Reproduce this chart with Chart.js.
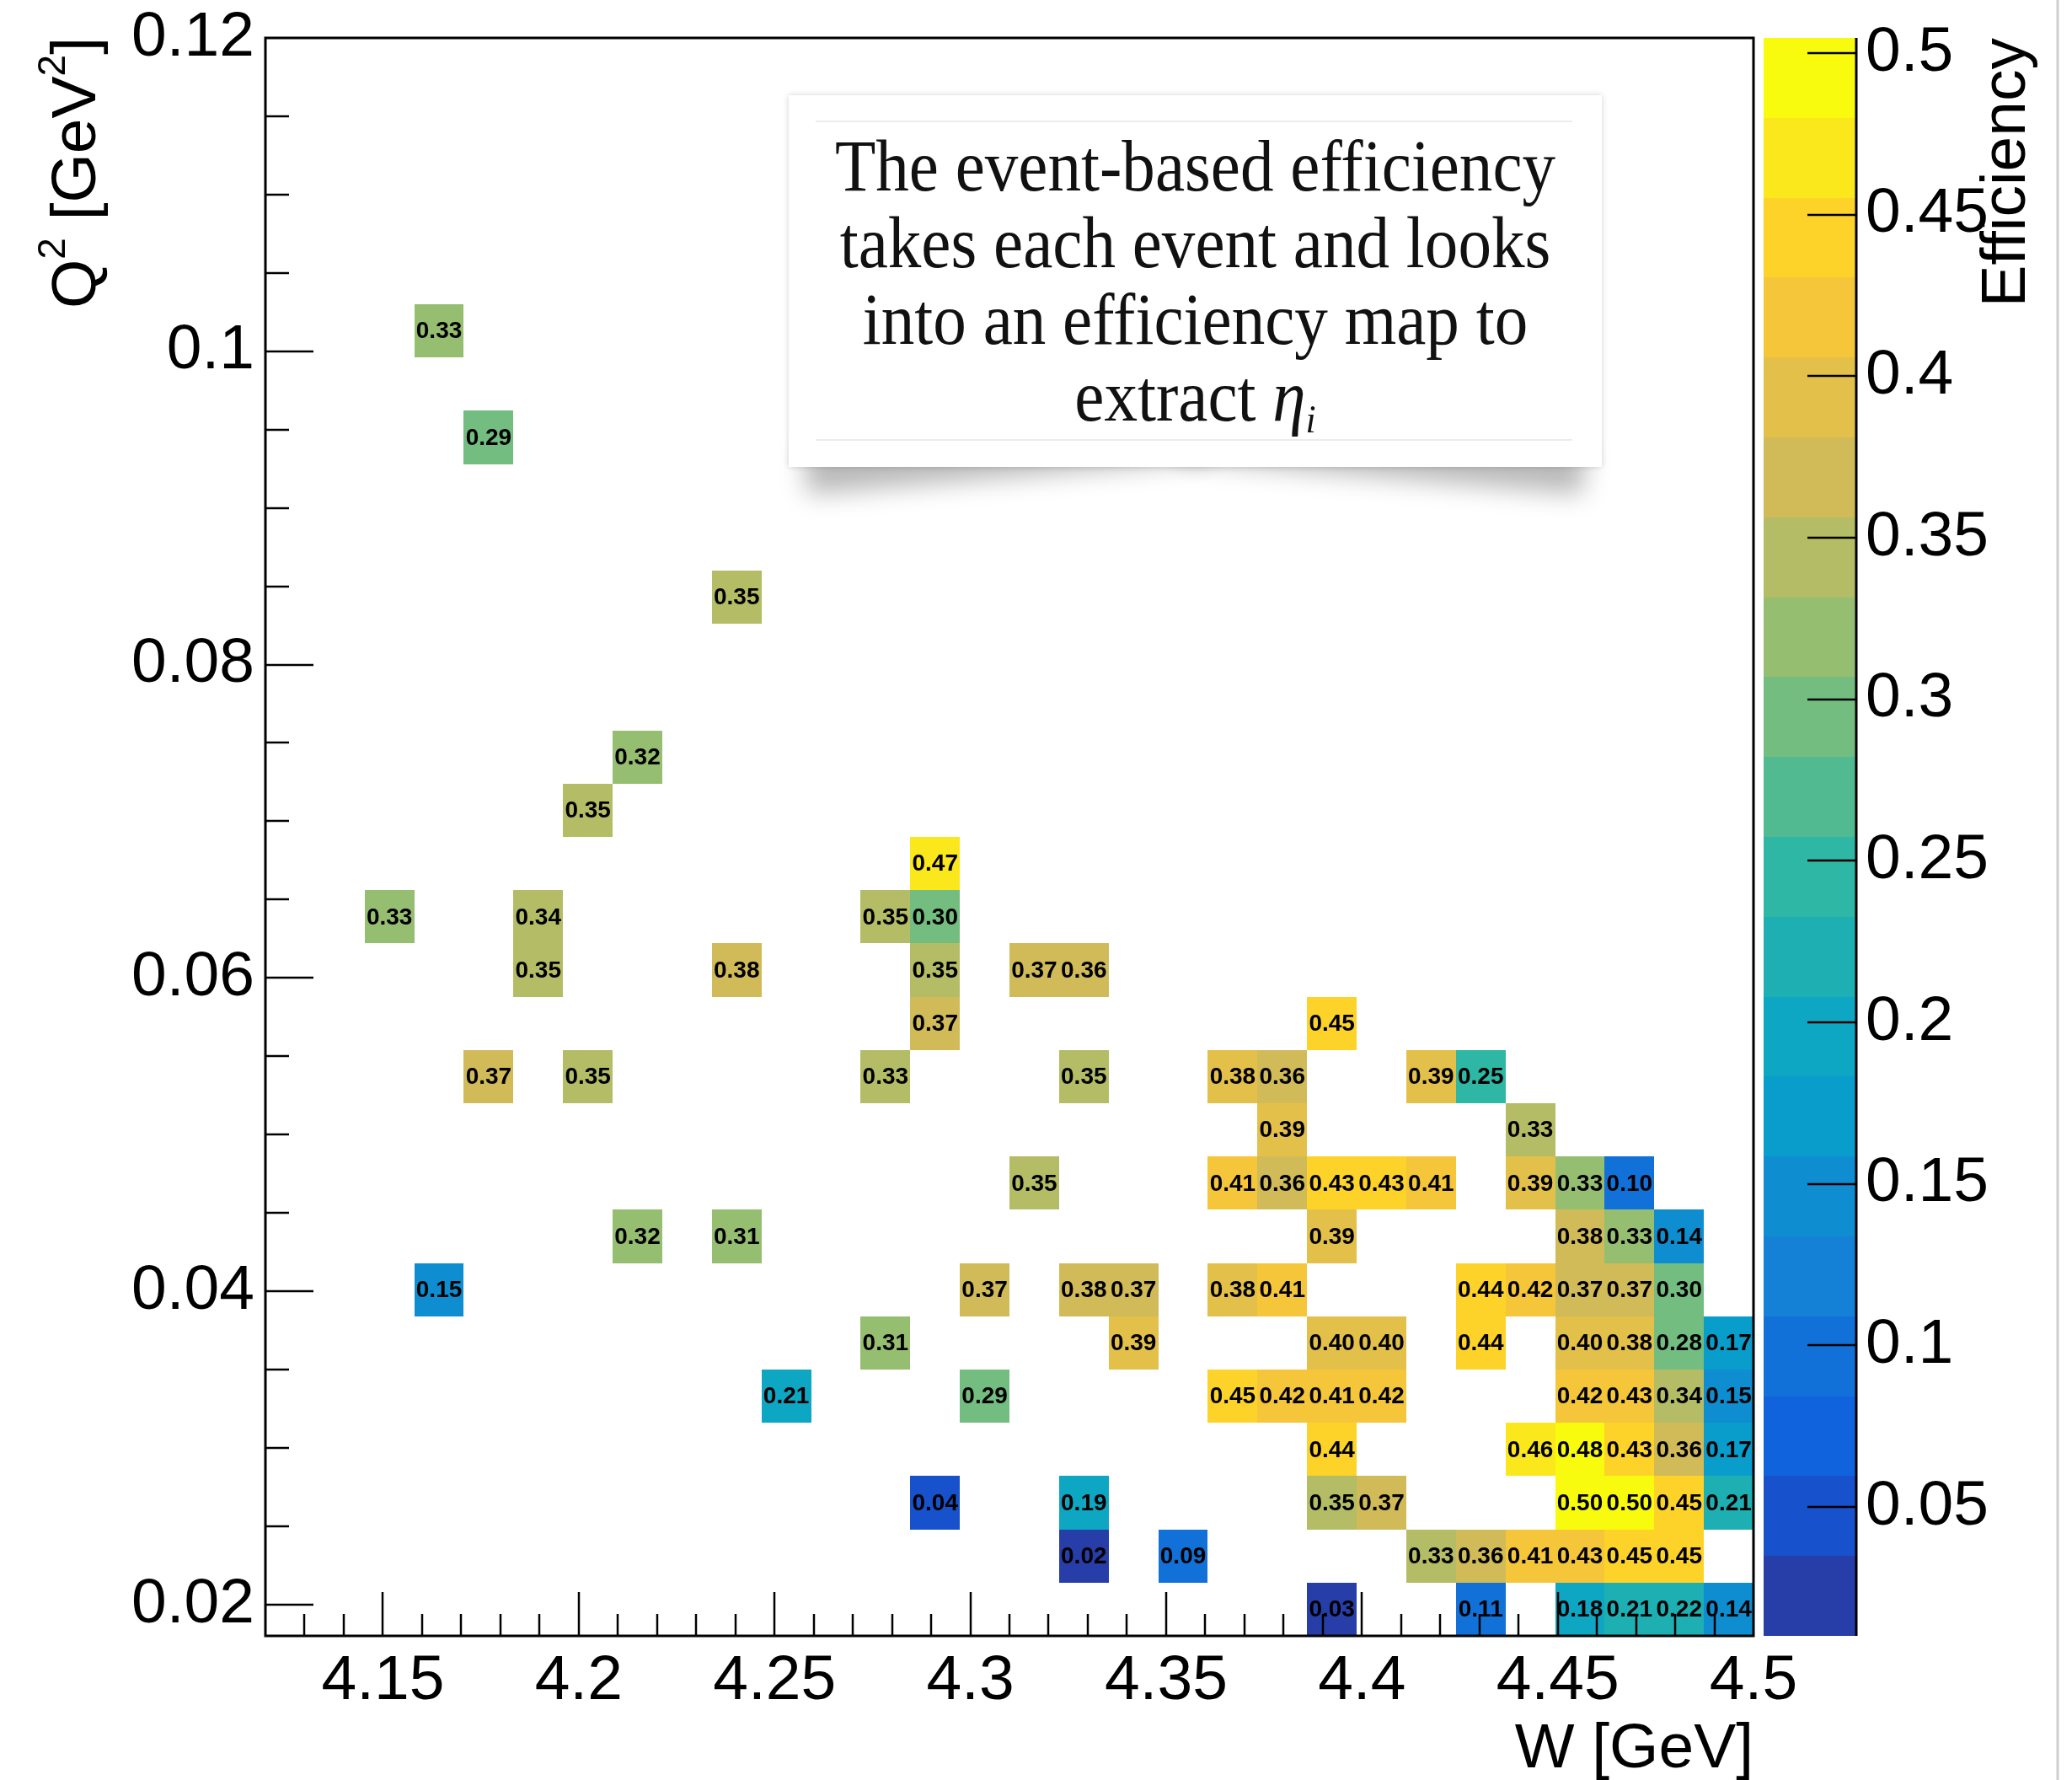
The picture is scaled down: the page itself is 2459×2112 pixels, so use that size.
<!DOCTYPE html>
<html lang="en">
<head>
    <meta charset="UTF-8">
    <title>Event-based efficiency map</title>
    <script src="https://cdn.jsdelivr.net/npm/chart.js@4.4.1/dist/chart.umd.min.js"></script>
    <style>
        html, body { margin: 0; padding: 0; background: #fff; }
        #wrap { position: relative; width: 2459px; height: 2112px; overflow: hidden; }
        #eff-chart { position: absolute; left: 0; top: 0; }
        .curl { position: absolute; top: 450px; width: 480px; height: 60px; box-shadow: 0 56px 30px rgba(0,0,0,0.28); }
        .curl.left { left: 950px; transform: rotate(-5deg); }
        .curl.right { left: 1406px; transform: rotate(5deg); }
        .note { position: absolute; left: 936px; top: 113px; width: 965px; height: 441px; background: #fff;
                box-shadow: 0 0 7px rgba(0,0,0,0.18); }
        .note .rule { position: absolute; left: 32px; right: 35px; height: 2px; background: #ececec; }
        .note .lines { position: absolute; left: 0; right: 0; top: 39px; font-family: "Liberation Serif", serif;
                       font-size: 86px; line-height: 91px; text-align: center; color: #111;
                       transform: scaleX(0.92); transform-origin: center; white-space: nowrap; }
        .note sub { font-size: 55%; vertical-align: -0.3em; }
    </style>
</head>
<body>
<div id="wrap">
    <canvas id="eff-chart" width="2459" height="2112"></canvas>
    <div class="curl left"></div>
    <div class="curl right"></div>
    <div class="note">
        <div class="rule" style="top:30px"></div>
        <div class="lines">
            <div>The event-based efficiency</div>
            <div>takes each event and looks</div>
            <div>into an efficiency map to</div>
            <div>extract <i>η</i><sub><i>i</i></sub></div>
        </div>
        <div class="rule" style="top:408px"></div>
    </div>
</div>

<script>
    // histogram binning (30 x 30 bins)
    const wMin = 4.12, wMax = 4.5, nBinsW = 30;
    const q2Min = 0.018, q2Max = 0.12, nBinsQ2 = 30;
    // colour axis range, 20 contour levels
    const effMin = 0.0101, effMax = 0.5047, nContours = 20;

    const wTicks = [4.15, 4.2, 4.25, 4.3, 4.35, 4.4, 4.45, 4.5];
    const wTickLabels = ['4.15', '4.2', '4.25', '4.3', '4.35', '4.4', '4.45', '4.5'];
    const q2Ticks = [0.02, 0.04, 0.06, 0.08, 0.1, 0.12];
    const q2TickLabels = ['0.02', '0.04', '0.06', '0.08', '0.1', '0.12'];
    const effTicks = [0.05, 0.1, 0.15, 0.2, 0.25, 0.3, 0.35, 0.4, 0.45, 0.5];
    const effTickLabels = ['0.05', '0.1', '0.15', '0.2', '0.25', '0.3', '0.35', '0.4', '0.45', '0.5'];

    // filled bins, one entry per Q2 row: Q2 bin index, W bin indices, efficiencies
    const rowQ2Bin = [0, 1, 2, 3, 4, 5, 6, 7, 8, 9, 10, 11, 12, 13, 14, 15, 16, 19, 22, 24];
    const rowWBins = [
        [21, 24, 26, 27, 28, 29],
        [16, 18, 23, 24, 25, 26, 27, 28],
        [13, 16, 21, 22, 26, 27, 28, 29],
        [21, 25, 26, 27, 28, 29],
        [10, 14, 19, 20, 21, 22, 26, 27, 28, 29],
        [12, 17, 21, 22, 24, 26, 27, 28, 29],
        [3, 14, 16, 17, 19, 20, 24, 25, 26, 27, 28],
        [7, 9, 21, 26, 27, 28],
        [15, 19, 20, 21, 22, 23, 25, 26, 27],
        [20, 25],
        [4, 6, 12, 16, 19, 20, 23, 24],
        [13, 21],
        [5, 9, 13, 15, 16],
        [2, 5, 12, 13],
        [13],
        [6],
        [7],
        [9],
        [4],
        [3]
    ];
    const rowEff = [
        [0.03, 0.106, 0.184, 0.21, 0.22, 0.14],
        [0.02, 0.09, 0.334, 0.362, 0.41, 0.428, 0.45, 0.45],
        [0.04, 0.19, 0.35, 0.37, 0.50, 0.50, 0.45, 0.21],
        [0.44, 0.46, 0.482, 0.432, 0.36, 0.17],
        [0.207, 0.29, 0.45, 0.42, 0.41, 0.42, 0.42, 0.428, 0.34, 0.15],
        [0.31, 0.39, 0.40, 0.40, 0.44, 0.40, 0.382, 0.283, 0.17],
        [0.15, 0.37, 0.378, 0.37, 0.382, 0.41, 0.44, 0.42, 0.37, 0.37, 0.30],
        [0.32, 0.31, 0.39, 0.378, 0.328, 0.14],
        [0.35, 0.41, 0.36, 0.432, 0.432, 0.41, 0.39, 0.328, 0.10],
        [0.39, 0.334],
        [0.37, 0.35, 0.334, 0.35, 0.383, 0.36, 0.39, 0.25],
        [0.37, 0.45],
        [0.35, 0.378, 0.35, 0.37, 0.36],
        [0.328, 0.34, 0.35, 0.30],
        [0.47],
        [0.35],
        [0.32],
        [0.35],
        [0.29],
        [0.328]
    ];

    // ROOT kBird palette
    const birdStops = [0.0, 0.125, 0.25, 0.375, 0.5, 0.625, 0.75, 0.875, 1.0];
    const birdR = [0.2082, 0.0592, 0.0780, 0.0232, 0.1802, 0.5301, 0.8186, 0.9956, 0.9764];
    const birdG = [0.1664, 0.3599, 0.5041, 0.6419, 0.7178, 0.7492, 0.7328, 0.7862, 0.9832];
    const birdB = [0.5293, 0.8684, 0.8385, 0.7914, 0.6425, 0.4662, 0.3499, 0.1968, 0.0539];

    function bird(t) {
        let k = 0;
        while (k < birdStops.length - 2 && t > birdStops[k + 1]) k++;
        const f = (t - birdStops[k]) / (birdStops[k + 1] - birdStops[k]);
        const c = arr => Math.round(255 * (arr[k] + f * (arr[k + 1] - arr[k])));
        return 'rgb(' + c(birdR) + ',' + c(birdG) + ',' + c(birdB) + ')';
    }
    function bandColor(b) {
        const idx = Math.floor((b + 0.99) * 255 / nContours);
        return bird(Math.min(idx, 254) / 254);
    }
    function effColor(v) {
        let b = Math.floor((v - effMin) / (effMax - effMin) * nContours);
        b = Math.max(0, Math.min(nContours - 1, b));
        return bandColor(b);
    }

    const dW = (wMax - wMin) / nBinsW;
    const dQ2 = (q2Max - q2Min) / nBinsQ2;

    const cells = [];
    rowQ2Bin.forEach((j, r) => {
        rowWBins[r].forEach((i, c) => {
            cells.push({ x: wMin + (i + 0.5) * dW, y: q2Min + (j + 0.5) * dQ2, i: i, j: j, v: rowEff[r][c] });
        });
    });

    const FONT = '"Liberation Sans", Arial, sans-serif';

    function drawParts(ctx, parts, size) {
        // parts: [text, isSuperscript]
        let total = 0;
        parts.forEach(p => {
            ctx.font = (p[1] ? 46 : size) + 'px ' + FONT;
            total += ctx.measureText(p[0]).width;
        });
        let x = -total;
        parts.forEach(p => {
            ctx.font = (p[1] ? 46 : size) + 'px ' + FONT;
            ctx.fillText(p[0], x, p[1] ? -36 : 0);
            x += ctx.measureText(p[0]).width;
        });
    }

    const th2Plugin = {
        id: 'th2',
        beforeDatasetsDraw(chart) {
            const ctx = chart.ctx;
            const xs = chart.scales.x, ys = chart.scales.y;
            ctx.save();
            cells.forEach(c => {
                const x0 = Math.round(xs.getPixelForValue(wMin + c.i * dW));
                const x1 = Math.round(xs.getPixelForValue(wMin + (c.i + 1) * dW));
                const y0 = Math.round(ys.getPixelForValue(q2Min + c.j * dQ2));
                const y1 = Math.round(ys.getPixelForValue(q2Min + (c.j + 1) * dQ2));
                ctx.fillStyle = effColor(c.v);
                ctx.fillRect(x0, y1, x1 - x0, y0 - y1);
            });
            ctx.fillStyle = '#000';
            ctx.font = 'bold 28px ' + FONT;
            ctx.textAlign = 'center';
            ctx.textBaseline = 'middle';
            cells.forEach(c => {
                ctx.fillText(c.v.toFixed(2), xs.getPixelForValue(c.x), ys.getPixelForValue(c.y) + 1);
            });
            ctx.restore();
        },
        afterDraw(chart) {
            const ctx = chart.ctx;
            const area = chart.chartArea;
            const xs = chart.scales.x, ys = chart.scales.y, zs = chart.scales.z;
            ctx.save();

            // colour palette box
            const pl = area.right + 12, pr = area.right + 122;
            for (let b = 0; b < nContours; b++) {
                const v0 = effMin + b * (effMax - effMin) / nContours;
                const v1 = effMin + (b + 1) * (effMax - effMin) / nContours;
                const y0 = Math.round(zs.getPixelForValue(v0));
                const y1 = Math.round(zs.getPixelForValue(v1));
                ctx.fillStyle = bandColor(b);
                ctx.fillRect(pl, y1, pr - pl, y0 - y1);
            }
            ctx.strokeStyle = '#000';
            ctx.lineWidth = 3;
            ctx.beginPath();
            ctx.moveTo(pr, area.top);
            ctx.lineTo(pr, area.bottom);
            ctx.stroke();
            ctx.lineWidth = 2.5;
            effTicks.forEach(v => {
                const y = Math.round(zs.getPixelForValue(v));
                ctx.beginPath();
                ctx.moveTo(pr - 58, y);
                ctx.lineTo(pr, y);
                ctx.stroke();
            });

            // frame
            ctx.lineWidth = 3;
            ctx.strokeRect(area.left, area.top, area.right - area.left, area.bottom - area.top);

            // x ticks (major + minor every 0.01)
            ctx.lineWidth = 2.5;
            for (let k = 1; k < 38; k++) {
                const w = wMin + k * 0.01;
                const isMajor = wTicks.some(t => Math.abs(t - w) < 1e-6);
                const px = Math.round(xs.getPixelForValue(w));
                ctx.beginPath();
                ctx.moveTo(px, area.bottom);
                ctx.lineTo(px, area.bottom - (isMajor ? 52 : 26));
                ctx.stroke();
            }
            // y ticks (major + minor every 0.005)
            for (let k = 0; k < 20; k++) {
                const q = 0.02 + k * 0.005;
                const isMajor = q2Ticks.some(t => Math.abs(t - q) < 1e-6);
                const py = Math.round(ys.getPixelForValue(q));
                ctx.beginPath();
                ctx.moveTo(area.left, py);
                ctx.lineTo(area.left + (isMajor ? 57 : 28), py);
                ctx.stroke();
            }

            // axis titles
            ctx.fillStyle = '#000';
            ctx.textBaseline = 'alphabetic';
            ctx.textAlign = 'left';
            ctx.save();
            ctx.translate(113, area.top - 1);
            ctx.rotate(-Math.PI / 2);
            drawParts(ctx, [['Q', false], ['2', true], [' [GeV', false], ['2', true], [']', false]], 75);
            ctx.restore();

            ctx.save();
            ctx.translate(area.right, 2097);
            drawParts(ctx, [['W [GeV]', false]], 75);
            ctx.restore();

            ctx.save();
            ctx.translate(2403, area.top);
            ctx.rotate(-Math.PI / 2);
            drawParts(ctx, [['Efficiency', false]], 75);
            ctx.restore();

            // slide edge line
            ctx.strokeStyle = '#cfcfcf';
            ctx.lineWidth = 3;
            ctx.beginPath();
            ctx.moveTo(2442, 0);
            ctx.lineTo(2442, 2112);
            ctx.stroke();

            ctx.restore();
        }
    };

    const tickFont = { family: FONT, size: 75 };

    const ctx = document.getElementById('eff-chart').getContext('2d');
    const effChart = new Chart(ctx, {
        type: 'scatter',
        data: {
            datasets: [{
                label: 'Efficiency',
                data: cells.map(c => ({ x: c.x, y: c.y })),
                pointRadius: 0,
                pointHoverRadius: 0
            }]
        },
        options: {
            responsive: false,
            animation: false,
            devicePixelRatio: 1,
            events: [],
            layout: { padding: { top: 45, left: 0, right: 0, bottom: 0 } },
            plugins: { legend: { display: false }, tooltip: { enabled: false } },
            scales: {
                x: {
                    type: 'linear', position: 'bottom', min: wMin, max: wMax,
                    grid: { display: false, drawTicks: false }, border: { display: false },
                    afterBuildTicks: s => { s.ticks = wTicks.map(v => ({ value: v })); },
                    afterFit: s => { s.height = 171; s.paddingLeft = 0; s.paddingRight = 0; },
                    ticks: {
                        callback: (v, i) => wTickLabels[i], font: tickFont, color: '#000',
                        padding: 9, maxRotation: 0, autoSkip: false
                    }
                },
                y: {
                    type: 'linear', position: 'left', min: q2Min, max: q2Max,
                    grid: { display: false, drawTicks: false }, border: { display: false },
                    afterBuildTicks: s => { s.ticks = q2Ticks.map(v => ({ value: v })); },
                    afterFit: s => { s.width = 315; s.paddingTop = 0; s.paddingBottom = 0; },
                    ticks: {
                        callback: (v, i) => q2TickLabels[i], font: tickFont, color: '#000',
                        padding: 13, autoSkip: false
                    }
                },
                z: {
                    type: 'linear', position: 'right', min: effMin, max: effMax,
                    grid: { display: false, drawTicks: false }, border: { display: false },
                    afterBuildTicks: s => { s.ticks = effTicks.map(v => ({ value: v })); },
                    afterFit: s => { s.width = 378; s.paddingTop = 0; s.paddingBottom = 0; },
                    ticks: {
                        callback: (v, i) => effTickLabels[i], font: tickFont, color: '#000',
                        padding: 133, autoSkip: false
                    }
                }
            }
        },
        plugins: [th2Plugin]
    });
</script>
</body>
</html>
